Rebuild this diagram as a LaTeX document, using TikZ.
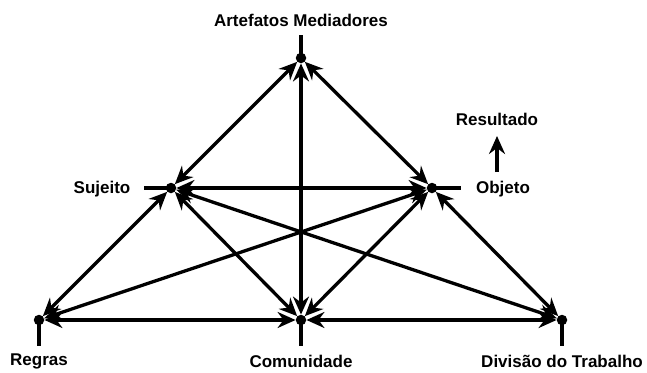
\documentclass[tikz,border=0pt]{standalone}
\usepackage{fontspec}
\setmainfont{Liberation Sans}
\usetikzlibrary{arrows.meta}
\begin{document}
\begin{tikzpicture}[x=1pt,y=-1pt,
  dot/.style={circle,fill=black,inner sep=0pt,minimum size=10.5pt},
  lbl/.style={font=\bfseries\fontsize{17}{20}\selectfont,inner sep=0pt},
  edge/.style={line width=3.3pt,{Stealth[length=18pt,width=16pt,inset=6pt]}-{Stealth[length=18pt,width=16pt,inset=6pt]}},
  tick/.style={line width=3.3pt}]
\useasboundingbox (0,0) rectangle (647,372);
\node[dot] (A) at (301,58) {};
\node[dot] (S) at (171,188) {};
\node[dot] (O) at (432,188) {};
\node[dot] (R) at (39,320) {};
\node[dot] (C) at (301,320) {};
\node[dot] (D) at (562,320) {};
\coordinate (At) at (301,35);
\coordinate (St) at (144,188);
\coordinate (Ot) at (461,188);
\coordinate (Rt) at (39,346);
\coordinate (Ct) at (301,346);
\coordinate (Dt) at (562,346);
\draw[tick] (A.center) -- (At);
\draw[tick] (S.center) -- (St);
\draw[tick] (O.center) -- (Ot);
\draw[tick] (R.center) -- (Rt);
\draw[tick] (C.center) -- (Ct);
\draw[tick] (D.center) -- (Dt);
\draw[edge] (A) -- (S);
\draw[edge] (A) -- (O);
\draw[edge] (A) -- (C);
\draw[edge] (S) -- (O);
\draw[edge] (S) -- (R);
\draw[edge] (S) -- (C);
\draw[edge] (S) -- (D);
\draw[edge] (O) -- (D);
\draw[edge] (O) -- (C);
\draw[edge] (O) -- (R);
\draw[edge] (R) -- (C);
\draw[edge] (C) -- (D);
\node[lbl] (lA) at (301,20) {Artefatos Mediadores};
\node[lbl] (lS) at (102,189) {Sujeito};
\node[lbl] (lO) at (503,189) {Objeto};
\node[lbl] (lRes) at (497,119) {Resultado};
\node[lbl] (lR) at (39,361) {Regras};
\node[lbl] (lC) at (301,361) {Comunidade};
\node[lbl] (lD) at (562,361) {Divisão do Trabalho};
\coordinate (r1) at (497,172);
\coordinate (r2) at (497,136);
\draw[line width=3.3pt,-{Stealth[length=18pt,width=16pt,inset=6pt]}] (r1) -- (r2);
\end{tikzpicture}
\end{document}
